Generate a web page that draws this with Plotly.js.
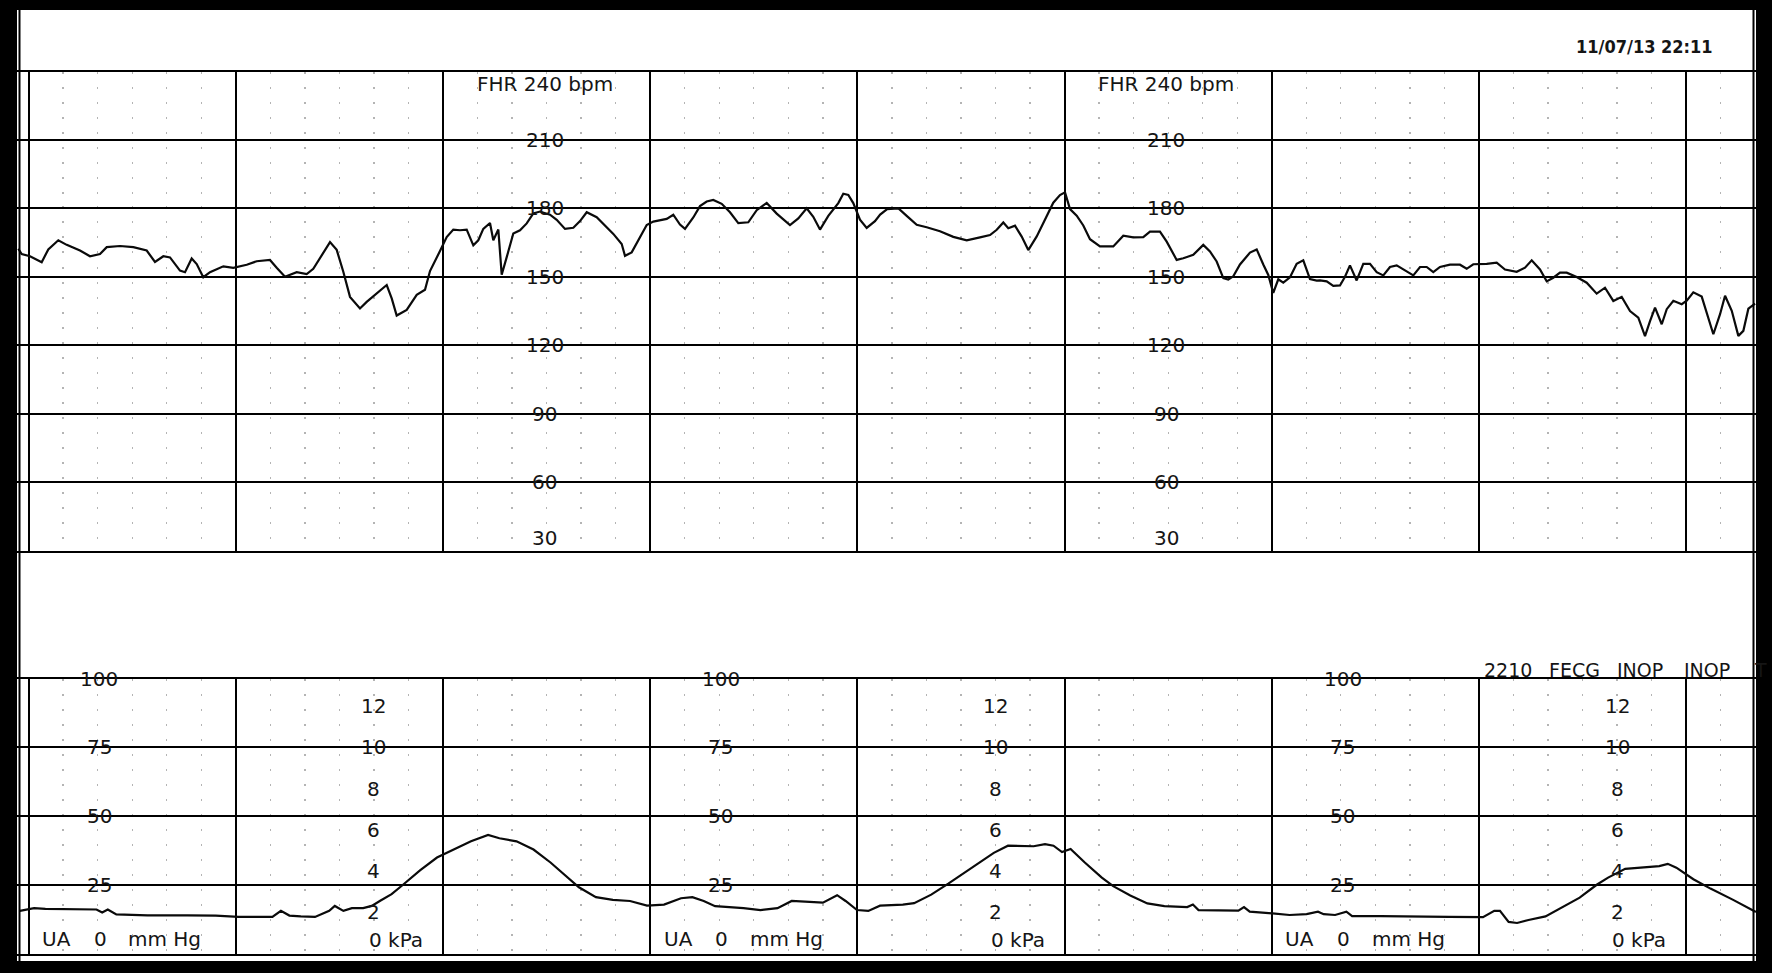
<!DOCTYPE html>
<html>
<head>
<meta charset="utf-8">
<script src="https://cdn.plot.ly/plotly-3.0.1.min.js"></script>
<style>
  html, body { margin: 0; padding: 0; background: #000; }
  #chart { width: 1772px; height: 973px; }
</style>
</head>
<body>
<div id="chart"></div>
<script>
// Fetal heart rate: time in seconds, value in bpm
const fhrTime = [-2.98,-2.0,0.41,3.79,5.70,8.60,11.03,14.88,17.78,20.68,22.62,26.47,30.32,34.20,36.60,39.01,40.95,43.84,45.29,47.23,48.68,50.59,52.53,56.38,59.28,63.16,66.05,69.90,71.84,74.25,77.64,80.53,82.44,84.38,87.28,89.22,91.13,93.07,95.96,97.90,100.80,103.70,105.15,106.59,109.49,112.39,114.79,116.24,119.13,121.07,122.98,124.92,126.86,128.78,130.22,131.67,133.61,134.57,136.02,137.00,138.45,140.36,142.30,144.24,146.15,148.09,150.99,152.93,155.33,157.74,159.68,161.62,164.51,166.42,169.32,171.75,172.70,174.64,176.56,178.99,180.90,184.78,186.69,188.63,190.08,192.48,194.42,196.36,198.27,200.71,203.11,205.51,208.41,210.84,213.74,216.63,220.48,222.89,225.32,227.23,229.17,231.58,234.47,235.92,237.37,238.81,240.75,242.69,245.09,246.59,248.53,251.89,254.28,257.18,260.07,263.92,267.78,271.66,275.51,278.41,280.35,282.26,283.70,285.64,287.58,289.49,291.93,294.82,296.73,298.67,300.12,301.57,303.51,305.42,307.36,310.25,314.10,317.00,319.89,322.79,324.73,327.62,329.57,332.46,334.37,337.27,340.16,342.10,344.04,345.96,347.40,348.85,350.79,353.69,355.63,357.54,358.99,360.43,361.88,363.33,365.27,367.21,369.12,371.06,373.00,373.96,375.90,377.81,379.75,381.20,382.64,384.58,386.50,388.44,390.38,392.29,394.23,396.17,399.07,400.98,402.92,404.86,406.77,408.71,411.61,414.50,416.44,418.35,422.23,425.13,427.53,430.92,433.33,435.27,437.67,439.61,441.52,443.46,445.40,448.30,451.19,454.09,456.49,458.90,461.33,463.74,466.14,468.08,469.53,470.98,472.92,474.37,476.28,478.71,480.16,482.07,484.50,486.42,487.87,489.81,491.26,493.20,495.11,496.56,498.01,499.95];
const fhrBpm = [162.3,160,159,156.4,162,166,164,161.5,159,160,163,163.5,163,161.5,156.5,159,158.5,152.7,152,158,155.6,149.8,152,154.6,153.9,155.3,156.8,157.4,154,150,152,151.2,153.5,158,165.2,161.8,152.2,141.2,136.1,139,142.7,146.4,140.5,133,135.5,142.1,144.3,152.5,161.3,167.4,170.7,170.4,170.7,163.8,166,171,173.6,166,170.7,150.9,158.6,169,170.4,173.4,177.8,178.6,177.2,175,171,171.5,174.4,178.3,176.1,173.2,168.8,164.4,159.2,160.7,166,172.7,174.2,175.4,177.2,172.9,171,176,181,183,183.7,182,178.3,173.5,173.9,179.2,182.4,177.7,172.7,175.6,180,176.3,170.7,176.7,182.3,186.4,185.9,182.3,175,171.4,174.4,177.3,179.6,180,176.7,172.8,171.7,170,167.5,166,167.3,168.3,170.6,173.8,171.3,172.4,167.6,161.7,167.7,176.6,182.5,185.8,187,179.7,176.8,172.5,166.5,163.3,163.3,168,167.3,167.4,169.8,169.8,165.4,157.4,158.1,159.6,164,161.1,156.7,149.4,148.8,150.2,155.4,160.6,162,155.4,150.8,142.9,148.9,147.4,149.8,155.7,157.2,149,148.3,148.4,148,146,146.2,150,155,148.4,155.7,155.7,152,150.6,154.3,155,152.4,150.6,154.3,154.3,152,154.3,155.3,155.3,153.5,155.5,155.7,156.2,153.2,152.2,154,157.2,153.2,148,149.6,151.8,151.8,149.9,147.4,142.6,145.2,139.4,141.2,135,132.1,124,130.6,136.5,129.2,135.8,139.5,138,139.5,143.2,141.3,132.2,124.8,133.6,141.7,135.1,124.1,126.3,136,138.2];

// Uterine activity: time in seconds, value in mmHg
const uaTime = [-2.52,1.59,4.86,11.44,19.66,21.31,22.93,25.40,34.46,45.96,54.18,60.75,70.60,73.06,75.52,78.82,82.94,87.05,88.67,91.16,93.62,96.89,99.36,101.82,105.12,108.42,113.34,118.26,123.19,128.11,133.06,136.33,141.29,146.21,151.13,156.06,159.36,164.28,169.20,174.16,179.08,184.00,188.92,192.22,195.50,198.80,207.02,211.95,216.87,220.98,225.09,230.01,234.13,236.59,239.89,243.16,246.55,253.15,256.43,261.38,266.33,271.25,276.20,279.50,283.61,287.73,291.03,294.33,296.79,299.25,301.74,305.85,310.78,314.08,319.03,323.98,328.91,335.51,337.16,338.78,345.38,350.33,351.95,353.61,360.21,365.16,370.08,373.38,375.03,378.34,381.61,383.26,391.51,403.04,411.26,421.16,424.43,426.08,428.58,431.04,434.34,439.26,444.21,449.16,454.09,457.39,462.34,467.26,472.21,474.67,477.16,482.09,487.04,493.61,498.56,500.2];
const uaMmHg = [15.5,16.5,16.2,16.2,16,14.9,16,14.2,13.9,13.9,13.8,13.3,13.3,15.5,13.8,13.5,13.3,15.5,17.3,15.5,16.5,16.5,17.3,19.2,21.6,25,30.2,34.9,37.8,40.8,43.1,41.9,40.8,37.8,33.1,27.8,24.1,20.5,19.5,19.1,17.4,17.8,20.1,20.5,19.1,17.2,16.5,15.8,16.5,19.1,18.8,18.5,21.2,19.1,15.8,15.5,17.4,17.8,18.3,21.4,25.4,29.6,33.7,36.6,39.2,39.2,39,39.8,39.2,36.9,38,33.1,27.6,24.5,21.1,18.2,17.2,16.9,17.8,15.8,15.6,15.6,16.9,15.2,14.6,14,14.3,15.2,14.3,14,15.2,13.6,13.6,13.3,13.3,13.2,15.5,15.5,11.5,11.1,12.2,13.5,16.9,20.3,25,27.6,30.8,31.2,31.8,32.6,31.2,27,23.6,19.5,16.1,15.1];

// Scale labels printed on the paper
const fhrScaleLabels = [210, 180, 150, 120, 90, 60];
const fhrTopLabel = 'FHR 240 bpm';
const fhrBottomLabel = '30';
const uaMmHgLabels = [100, 75, 50, 25];
const uaKpaLabels = [12, 10, 8, 6, 4, 2];
const uaKpaAtMmHg = [90, 75, 60, 45, 30, 15];
const uaBaseWords = ['UA', '0', 'mm Hg'];
const kpaBaseLabel = '0 kPa';
const dateLabel = '11/07/13 22:11';
const statusWords = ['2210', 'FECG', 'INOP', 'INOP', 'T'];

// ---------------- LAYOUT GEOMETRY ----------------
const W = 1772, H = 973;
const ML = 17, MR = 16, MT = 10, MB = 12;
const plotW = W - ML - MR, plotH = H - MT - MB;
const pX = px => (px - ML) / plotW;
const pY = py => (H - MB - py) / plotH;

const xRange = [-3.36, 500.22];
const fhrDomain = [pY(550.5), pY(71.5)];
const uaDomain = [pY(953.5), pY(678.5)];

const FONT = 'DejaVu Sans, Verdana, sans-serif';
const INK = '#151515';

const annotations = [];
function ann(o) {
  annotations.push(Object.assign({
    showarrow: false, xanchor: 'center', yanchor: 'middle',
    font: { family: FONT, size: 20, color: INK }
  }, o));
}

// FHR scale label columns
[149.5, 329.5].forEach(xc => {
  ann({ xref: 'x', yref: 'y', x: xc, y: 234.7, text: fhrTopLabel });
  fhrScaleLabels.forEach(v => ann({ xref: 'x', yref: 'y', x: xc, y: v, text: String(v) }));
  ann({ xref: 'x', yref: 'y', x: xc, y: 35.4, text: fhrBottomLabel });
});

// UA mmHg columns
[20.5, 200.5, 380.5].forEach(xc => {
  uaMmHgLabels.forEach(v => ann({ xref: 'x2', yref: 'y2', x: xc, y: v, text: String(v) }));
});
// UA base label "UA 0 mm Hg"
const uaWordOffsets = [3.3, 18.3, 28.3];
[0, 180, 360].forEach(off => {
  uaBaseWords.forEach((w, i) => ann({ xref: 'x2', yref: 'y2', x: off + uaWordOffsets[i], y: 5.4, text: w, xanchor: 'left' }));
});
// kPa columns
[100, 280, 460].forEach(xc => {
  uaKpaLabels.forEach((v, i) => ann({ xref: 'x2', yref: 'y2', x: xc, y: uaKpaAtMmHg[i], text: String(v) }));
  ann({ xref: 'x2', yref: 'y2', x: xc - 2, y: 5.0, text: kpaBaseLabel, xanchor: 'left' });
});

// Header texts
ann({ xref: 'paper', yref: 'paper', x: pX(1644), y: pY(47), text: dateLabel,
      font: { family: 'DejaVu Sans Condensed, DejaVu Sans, sans-serif', size: 18, color: INK, weight: 'bold' } });
const statusLeft = [1481.7, 1546.7, 1615, 1681.7, 1751.7];
statusWords.forEach((w, i) => ann({ xref: 'paper', yref: 'paper', x: pX(statusLeft[i]), y: pY(669.5), text: w,
      xanchor: 'left', font: { family: FONT, size: 19, color: INK } }));

const xBase = {
  range: xRange, domain: [0, 1], tick0: 0, dtick: 60,
  showgrid: true, gridcolor: '#000', gridwidth: 2,
  showticklabels: false, ticks: '', zeroline: false,
  showline: true, mirror: true, linecolor: '#000', linewidth: 2,
  minor: { tick0: 0, dtick: 10, showgrid: true, gridcolor: '#b4b4b4', gridwidth: 1.3, griddash: '2px,13px', ticks: '' },
  fixedrange: true
};

const layout = {
  width: W, height: H,
  margin: { l: ML, r: MR, t: MT, b: MB, pad: 0 },
  paper_bgcolor: '#000',
  plot_bgcolor: '#fff',
  showlegend: false,
  xaxis: Object.assign({}, xBase, { anchor: 'y' }),
  xaxis2: Object.assign({}, xBase, { anchor: 'y2', matches: 'x' }),
  yaxis: {
    domain: fhrDomain, range: [30, 240], tick0: 0, dtick: 30,
    showgrid: true, gridcolor: '#000', gridwidth: 2,
    showticklabels: false, ticks: '', zeroline: false, fixedrange: true
  },
  yaxis2: {
    domain: uaDomain, range: [0, 100], tick0: 0, dtick: 25,
    showgrid: true, gridcolor: '#000', gridwidth: 2,
    showticklabels: false, ticks: '', zeroline: false, fixedrange: true
  },
  shapes: [
    { type: 'rect', xref: 'paper', yref: 'paper', x0: 0, x1: 1, y0: 0, y1: 1,
      fillcolor: '#fff', line: { width: 0 }, layer: 'below' },
    { type: 'line', xref: 'paper', yref: 'paper', x0: pX(19.5), x1: pX(19.5), y0: 0, y1: 1,
      line: { color: '#000', width: 2 } },
    { type: 'line', xref: 'paper', yref: 'paper', x0: pX(1753.5), x1: pX(1753.5), y0: 0, y1: 1,
      line: { color: '#000', width: 2 } }
  ],
  annotations: annotations
};

const traces = [
  { type: 'scatter', mode: 'lines', x: fhrTime, y: fhrBpm, xaxis: 'x', yaxis: 'y',
    line: { color: '#0a0a0a', width: 2.2 }, hoverinfo: 'skip', cliponaxis: true },
  { type: 'scatter', mode: 'lines', x: uaTime, y: uaMmHg, xaxis: 'x2', yaxis: 'y2',
    line: { color: '#0a0a0a', width: 2.2 }, hoverinfo: 'skip', cliponaxis: true }
];

Plotly.newPlot('chart', traces, layout, { displayModeBar: false, staticPlot: true });
</script>
</body>
</html>
